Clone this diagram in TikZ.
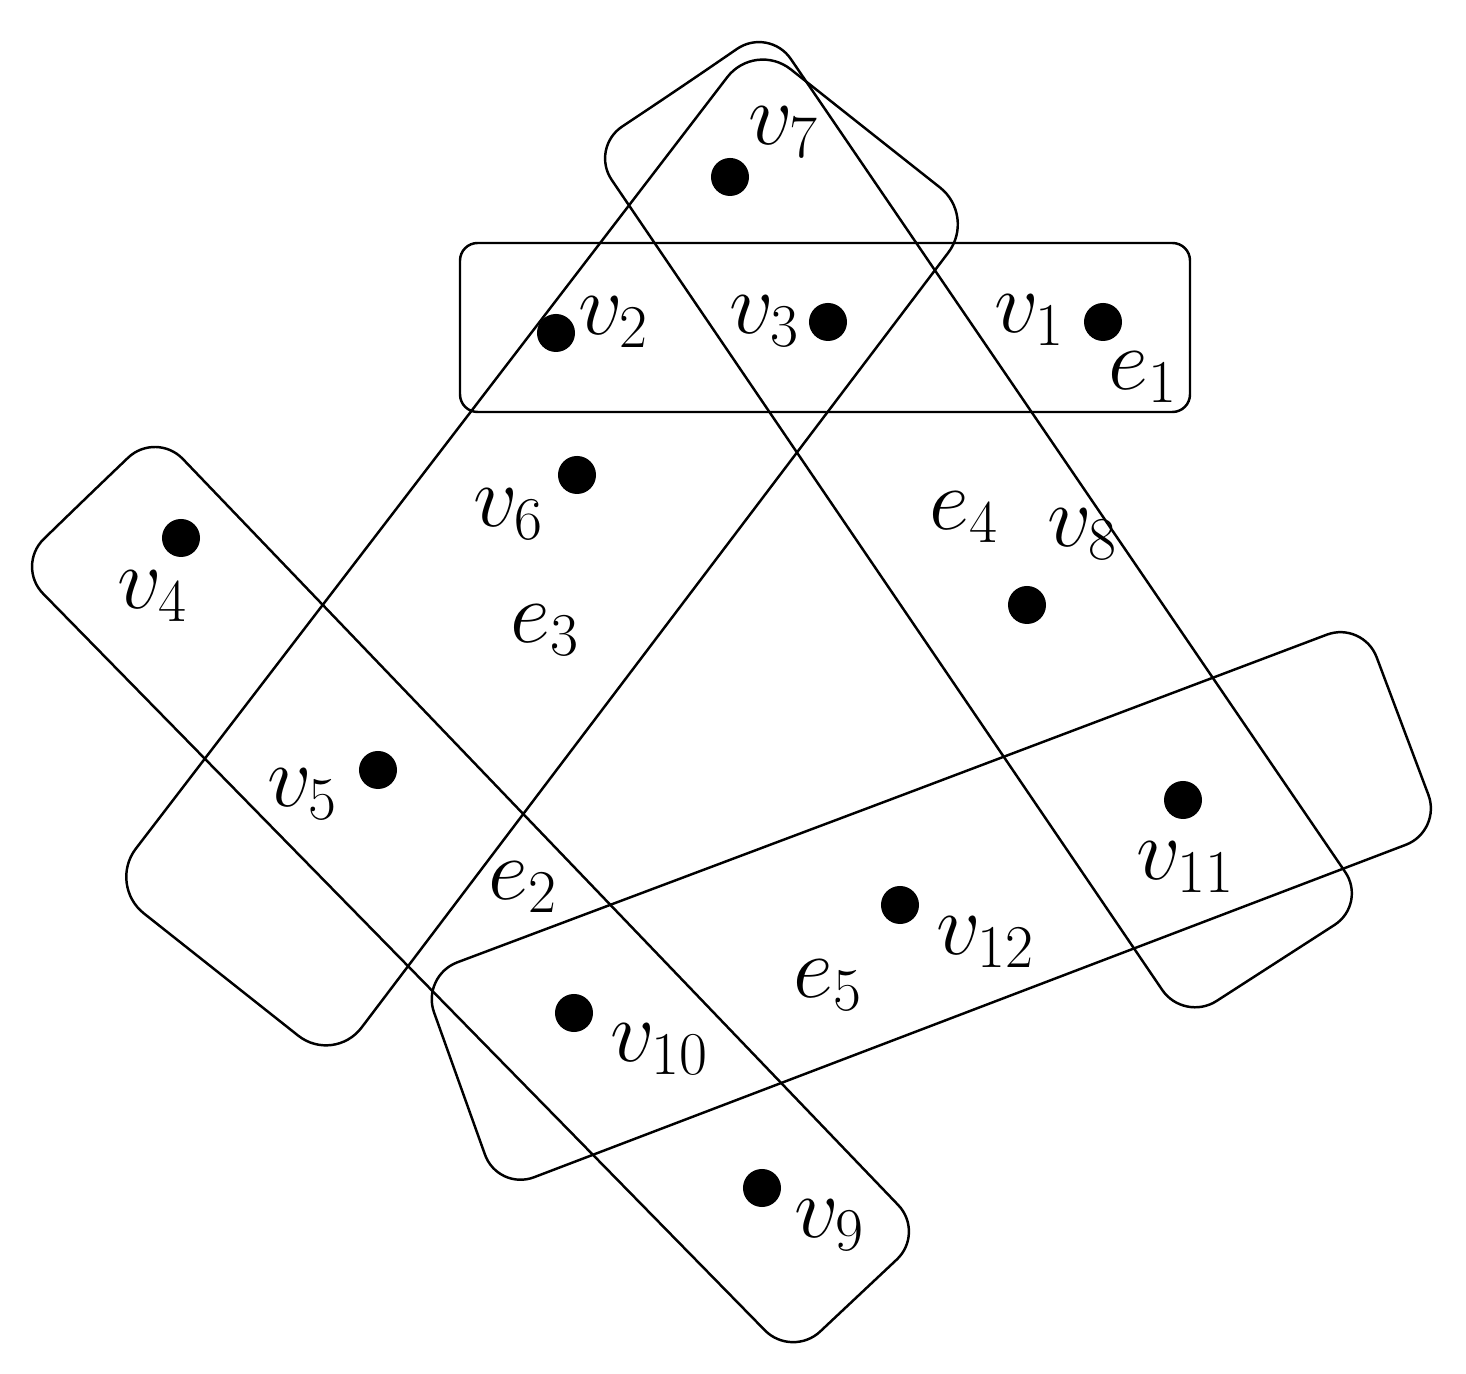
\documentclass[tikz,border=0pt]{standalone}
\tikzstyle{vertex} = [circle, fill=black, inner sep=0pt, minimum size=0.38cm]
\tikzstyle{vlabel} = [inner sep=0pt, font=\fontsize{26}{30}\selectfont]
\tikzstyle{hedge} = [draw=black, line width=0.7pt, rounded corners=11pt]
\begin{document}
\begin{tikzpicture}[x=0.01cm, y=-0.01cm]
\useasboundingbox (0,0) rectangle (1466,1374);

\draw [hedge, rounded corners=5pt] (825,243) -- (1190,243) -- (1190,412) -- (460,412) -- (460,243) -- cycle;
\draw [hedge, rounded corners=13pt] (866,129) -- (976,216) -- (334,1064) -- (108,885) -- (755,41) -- cycle;
\draw [hedge] (680,88) -- (769,27) -- (1367,904) -- (1184,1022) -- (590,148) -- cycle;
\draw [hedge] (86,498) -- (156,431) -- (925,1233) -- (792,1358) -- (16,566) -- cycle;
\draw [hedge] (892,799) -- (1363,621) -- (1442,831) -- (498,1191) -- (421,976) -- cycle;

\node (v1) [vertex] at (1103,322) {};
\node (v2) [vertex] at (556,333) {};
\node (v3) [vertex] at (828,322) {};
\node (v4) [vertex] at (181,538) {};
\node (v5) [vertex] at (378,770) {};
\node (v6) [vertex] at (577,475) {};
\node (v7) [vertex] at (730,177) {};
\node (v8) [vertex] at (1027,605) {};
\node (v9) [vertex] at (762,1188) {};
\node (v10) [vertex] at (574,1013) {};
\node (v11) [vertex] at (1183,800) {};
\node (v12) [vertex] at (900,905) {};

\node (lv1) [vlabel] at (1030,320) {$v_1$};
\node (lv2) [vlabel] at (614,322) {$v_2$};
\node (lv3) [vlabel] at (765,321) {$v_3$};
\node (lv4) [vlabel] at (153,596) {$v_4$};
\node (lv5) [vlabel] at (303,794) {$v_5$};
\node (lv6) [vlabel] at (509,514) {$v_6$};
\node (lv7) [vlabel] at (784,132) {$v_7$};
\node (lv8) [vlabel] at (1083,534) {$v_8$};
\node (lv9) [vlabel] at (830,1225) {$v_9$};
\node (lv10) [vlabel] at (660,1049) {$v_{10}$};
\node (lv11) [vlabel] at (1186,867) {$v_{11}$};
\node (lv12) [vlabel] at (986,942) {$v_{12}$};

\node (le1) [vlabel] at (1143,377) {$e_1$};
\node (le2) [vlabel] at (523,887) {$e_2$};
\node (le3) [vlabel] at (545,630) {$e_3$};
\node (le4) [vlabel] at (964,517) {$e_4$};
\node (le5) [vlabel] at (828,985) {$e_5$};

\end{tikzpicture}
\end{document}
